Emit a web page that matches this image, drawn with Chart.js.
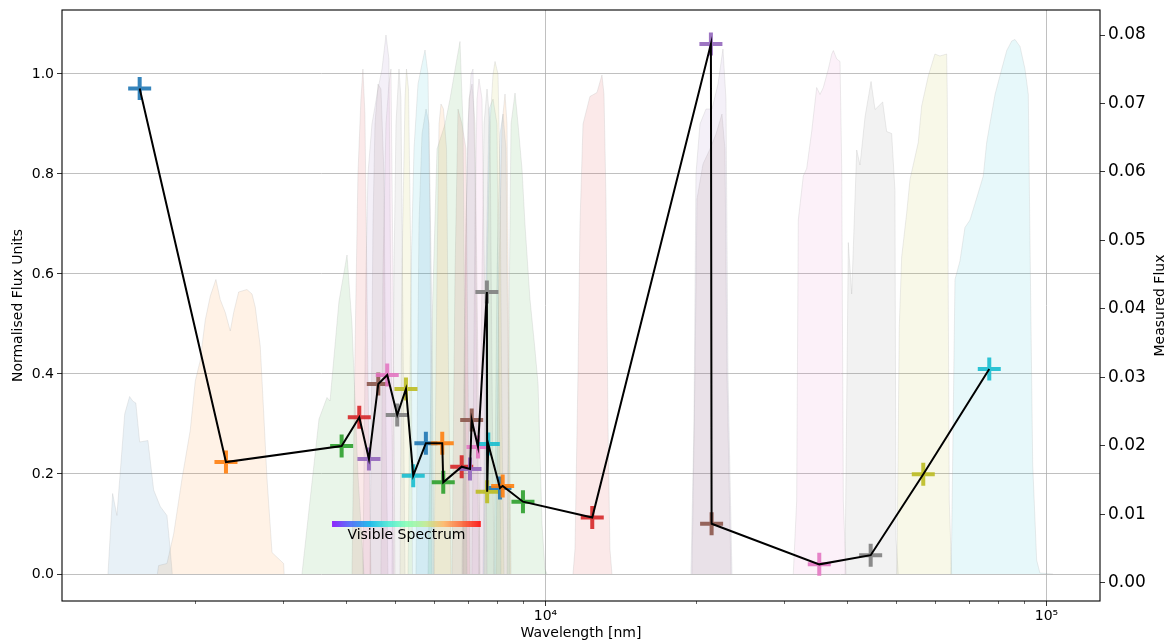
<!DOCTYPE html>
<html>
<head>
<meta charset="utf-8">
<title>Filter curves and measured flux</title>
<script src="https://cdn.jsdelivr.net/npm/chart.js@4.4.1/dist/chart.umd.min.js"></script>
<style>
  html, body { margin: 0; padding: 0; background: #fff; }
  #wrap { width: 1170px; height: 644px; }
</style>
</head>
<body>
<div id="wrap"><canvas id="sed" width="1170" height="644"></canvas></div>
<script>
// matplotlib tab10 cycle, as rgb triples
const tab10 = [
    '31,119,180', '255,127,14', '44,160,44', '214,39,40', '148,103,189',
    '140,86,75', '227,119,194', '127,127,127', '188,189,34', '23,190,207'
];

// Photometry: effective wavelength per band and measured flux (right axis)
const bandWavelengths = [
    1549, 2303, 3919, 4250, 4443, 4638, 4833, 5060, 5267, 5446,
    5772, 6223, 6252, 6805, 7070, 7125, 7334, 7640, 7650, 7689,
    8114, 8215, 9018, 12400, 21392, 21460, 35200, 44580, 56770, 76890
];
const bandFluxes = [
    0.0722, 0.01766, 0.0200, 0.02419, 0.0181, 0.02905, 0.03036, 0.02453, 0.02832, 0.01566,
    0.0204, 0.0204, 0.0147, 0.01698, 0.01664, 0.0238, 0.01985, 0.04248, 0.01333, 0.02029,
    0.01387, 0.01416, 0.01187, 0.00956, 0.07869, 0.00864, 0.00272, 0.00406, 0.01587, 0.03124
];

// Filter transmission curves, [wavelength, normalised transmission]
const curve01 = [[1339,0],[1368,0.161],[1395,0.117],[1417,0.205],[1446,0.32],[1479,0.355],[1500,0.346],[1522,0.342],[1549,0.264],[1609,0.267],[1652,0.168],[1703,0.135],[1756,0.117],[1779,0.058],[1800,0]];
const curve02 = [[1680,0],[1690,0.017],[1756,0.021],[1811,0.08],[1882,0.191],[1954,0.287],[2000,0.386],[2046,0.427],[2094,0.508],[2143,0.556],[2199,0.589],[2243,0.549],[2296,0.523],[2349,0.486],[2386,0.523],[2441,0.564],[2536,0.569],[2596,0.56],[2635,0.534],[2696,0.456],[2739,0.323],[2781,0.191],[2846,0.043],[3002,0.021],[3009,0]];
const curve03 = [[3266,0],[3388,0.146],[3532,0.31],[3664,0.353],[3715,0.346],[3871,0.545],[4017,0.638],[4110,0.5],[4224,0.2],[4342,0]];
const curve04 = [[4110,0],[4168,0.45],[4224,0.8],[4282,0.95],[4322,1.01],[4362,0.92],[4423,0.4],[4484,0]];
const curve05 = [[4322,0],[4382,0.6],[4423,0.8],[4505,0.9],[4632,0.97],[4718,1.01],[4805,1.078],[4871,1.03],[4916,0.5],[4974,0]];
const curve06 = [[4464,0],[4526,0.7],[4568,0.9],[4632,0.98],[4696,0.97],[4761,0.8],[4805,0.3],[4849,0]];
const curve07 = [[4696,0],[4739,0.6],[4805,0.9],[4871,0.98],[4916,1.01],[4962,0.6],[5008,0]];
const curve08 = [[4939,0],[4985,0.6],[5031,0.9],[5101,1.01],[5147,0.95],[5194,0.5],[5244,0]];
const curve09 = [[5124,0],[5170,0.6],[5244,0.95],[5280,1.01],[5329,0.97],[5390,0.6],[5428,0]];
const curve10 = [[5317,0],[5391,0.6],[5465,0.85],[5567,0.98],[5670,1.02],[5749,1.048],[5829,1.0],[5883,0.7],[5937,0]];
const curve11 = [[5515,0],[5592,0.7],[5670,0.88],[5776,0.93],[5856,0.9],[5937,0.5],[5991,0]];
const curve12 = [[5991,0],[6075,0.6],[6131,0.9],[6187,0.94],[6259,0.93],[6347,0.85],[6406,0.4],[6479,0]];
const curve13 = [[5829,0],[5937,0.5],[6075,0.85],[6303,0.9],[6449,0.95],[6629,1.02],[6752,1.065],[6846,0.9],[6909,0.4],[6974,0]];
const curve14 = [[6508,0],[6599,0.6],[6690,0.93],[6814,0.9],[6941,0.85],[7005,0.4],[7070,0]];
const curve15 = [[6814,0],[6909,0.6],[7005,0.9],[7103,1.0],[7168,1.01],[7234,0.8],[7301,0.3],[7368,0]];
const curve16 = [[6846,0],[6941,0.7],[7037,0.95],[7135,0.98],[7234,0.9],[7335,0.4],[7402,0]];
const curve17 = [[7135,0],[7234,0.7],[7301,0.95],[7368,0.99],[7470,0.95],[7575,0.5],[7645,0]];
const curve18 = [[7368,0],[7470,0.6],[7540,0.9],[7645,0.97],[7751,0.9],[7822,0.4],[7895,0]];
const curve19 = [[7540,0],[7645,0.6],[7751,0.9],[7859,1.0],[7931,1.025],[8041,1.0],[8115,0.8],[8190,0.3],[8266,0]];
const curve20 = [[7505,0],[7610,0.6],[7716,0.93],[7859,0.95],[8004,0.9],[8078,0.4],[8153,0]];
const curve21 = [[7895,0],[8004,0.6],[8115,0.88],[8228,0.92],[8342,0.85],[8420,0.4],[8497,0]];
const curve22 = [[7967,0],[8078,0.6],[8190,0.9],[8304,0.96],[8381,0.9],[8458,0.4],[8536,0]];
const curve23 = [[8381,0],[8458,0.5],[8536,0.9],[8695,0.962],[8816,0.9],[8979,0.81],[9101,0.7],[9313,0.55],[9528,0.45],[9666,0.38],[9750,0.25],[9843,0.1],[9977,0.01],[10069,0]];
const curve24 = [[11349,0],[11454,0.05],[11613,0.4],[11720,0.7],[11884,0.9],[12268,0.955],[12671,0.963],[12966,0.998],[13086,0.96],[13207,0.75],[13329,0.3],[13449,0.05],[13576,0]];
const curve25 = [[19517,0],[19790,0.3],[19972,0.8],[20344,0.9],[20915,0.93],[21497,0.93],[22099,0.98],[22610,1.05],[22925,0.95],[23137,0.4],[23567,0]];
const curve26 = [[19608,0],[19881,0.4],[20064,0.75],[20627,0.82],[21300,0.85],[21897,0.88],[22507,0.92],[22820,0.85],[23031,0.4],[23459,0]];
const curve27 = [[31235,0],[31728,0.146],[31963,0.708],[32707,0.796],[33223,0.811],[33992,0.885],[34785,0.973],[35320,0.959],[35860,0.973],[36697,1.01],[37276,1.04],[37552,1.047],[38145,1.03],[38722,1.025],[39026,0.81],[39315,0.146],[39806,0]];
const curve28 = [[39618,0],[40226,0.663],[40860,0.56],[41810,0.848],[42448,0.818],[43436,0.914],[44654,0.985],[45484,0.929],[47108,0.944],[47973,0.885],[49091,0.881],[49843,0.767],[50073,0.07],[50607,0]];
const curve29 = [[50200,0],[50373,0.07],[50839,0.493],[51404,0.634],[52602,0.722],[53405,0.789],[55473,0.863],[56349,0.936],[58083,0.996],[59896,1.04],[61291,1.036],[63213,1.04],[63387,0.959],[63973,0.146],[64685,0]];
const curve30 = [[64400,0],[64685,0.07],[65677,0.589],[67193,0.626],[68757,0.693],[70357,0.708],[72566,0.752],[74796,0.796],[75976,0.863],[78940,0.959],[81418,1.01],[83314,1.047],[85239,1.066],[86546,1.069],[88559,1.055],[90610,1.01],[91993,0.959],[92715,0.663],[93874,0.22],[95587,0.028],[97051,0.002],[103040,0]];

const filterCurves = [
    curve01, curve02, curve03, curve04, curve05, curve06, curve07, curve08, curve09, curve10,
    curve11, curve12, curve13, curve14, curve15, curve16, curve17, curve18, curve19, curve20,
    curve21, curve22, curve23, curve24, curve25, curve26, curve27, curve28, curve29, curve30
];

// Axis ranges and ticks
const waveRange = [1084, 127900];
const waveMajorTicks = [10000, 100000];
const waveMinorTicks = [2000, 3000, 4000, 5000, 6000, 7000, 8000, 9000,
                        20000, 30000, 40000, 50000, 60000, 70000, 80000, 90000];
const normRange = [-0.054, 1.128];
const normTicks = [0, 0.2, 0.4, 0.6, 0.8, 1.0];
const fluxRange = [-0.00263, 0.08365];
const fluxTicks = [0, 0.01, 0.02, 0.03, 0.04, 0.05, 0.06, 0.07, 0.08];

// Visible spectrum marker
const visibleRange = [3750, 7430];
const visibleLevel = 0.1;
const visibleLabelLevel = 0.078;
const spectrumColors = [
    'rgba(128,0,255,0.85)', 'rgba(64,98,250,0.85)', 'rgba(0,180,236,0.85)',
    'rgba(64,236,212,0.85)', 'rgba(128,255,180,0.85)', 'rgba(191,236,142,0.85)',
    'rgba(255,180,98,0.85)', 'rgba(255,98,50,0.85)', 'rgba(255,0,0,0.85)'
];

const superDigits = { '4': '\u2074', '5': '\u2075' };

Chart.defaults.font.family = "'DejaVu Sans', sans-serif";
Chart.defaults.color = '#000';

// Frame, minor ticks, visible band, right-hand label
const extrasPlugin = {
    id: 'extras',
    afterDatasetsDraw(chart) {
        const ctx = chart.ctx;
        const xs = chart.scales.x, ys = chart.scales.y;
        const x0 = xs.getPixelForValue(visibleRange[0]);
        const x1 = xs.getPixelForValue(visibleRange[1]);
        const yb = ys.getPixelForValue(visibleLevel);
        const grad = ctx.createLinearGradient(x0, 0, x1, 0);
        spectrumColors.forEach((c, i) => grad.addColorStop(i / (spectrumColors.length - 1), c));
        ctx.save();
        ctx.fillStyle = grad;
        ctx.fillRect(x0, yb - 3, x1 - x0, 6);
        const xm = xs.getPixelForValue(Math.sqrt(visibleRange[0] * visibleRange[1]));
        ctx.fillStyle = '#000';
        ctx.font = "14px 'DejaVu Sans'";
        ctx.textAlign = 'center';
        ctx.textBaseline = 'middle';
        ctx.fillText('Visible Spectrum', xm, ys.getPixelForValue(visibleLabelLevel));
        ctx.restore();
    },
    afterDraw(chart) {
        const ctx = chart.ctx;
        const area = chart.chartArea;
        const xs = chart.scales.x;
        ctx.save();
        ctx.strokeStyle = '#000';
        ctx.lineWidth = 0.6;
        waveMinorTicks.forEach(v => {
            const px = Math.round(xs.getPixelForValue(v)) + 0.5;
            ctx.beginPath();
            ctx.moveTo(px, area.bottom);
            ctx.lineTo(px, area.bottom + 3);
            ctx.stroke();
        });
        ctx.lineWidth = 1.1;
        ctx.strokeRect(area.left, area.top, area.right - area.left, area.bottom - area.top);
        ctx.translate(chart.scales.y1.right - 10, (area.top + area.bottom) / 2);
        ctx.rotate(-Math.PI / 2);
        ctx.fillStyle = '#000';
        ctx.font = "14px 'DejaVu Sans'";
        ctx.textAlign = 'center';
        ctx.textBaseline = 'middle';
        ctx.fillText('Measured Flux', 0, 0);
        ctx.restore();
    }
};

const filterDatasets = filterCurves.map((curve, i) => ({
    type: 'line',
    data: curve.map(p => ({ x: p[0], y: p[1] })),
    yAxisID: 'y',
    fill: 'origin',
    backgroundColor: `rgba(${tab10[i % 10]},0.1)`,
    borderColor: 'rgba(160,160,160,0.25)',
    borderWidth: 0.8,
    pointRadius: 0,
    tension: 0,
    order: 3
}));

const bandPoints = bandWavelengths.map((w, i) => ({ x: w, y: bandFluxes[i] }));
const bandColors = bandWavelengths.map((w, i) => `rgba(${tab10[i % 10]},0.9)`);

// keep label overhang from pushing the plot area around
const fixVertical = (width) => (scale) => {
    scale.width = width;
    scale.paddingTop = 0;
    scale.paddingBottom = 0;
};

new Chart(document.getElementById('sed'), {
    type: 'line',
    data: {
        datasets: [
            ...filterDatasets,
            {
                type: 'line',
                data: bandPoints,
                yAxisID: 'y1',
                showLine: false,
                pointStyle: 'cross',
                pointRadius: 11.5,
                pointHoverRadius: 11.5,
                pointBorderWidth: 4,
                pointBorderColor: bandColors,
                pointBackgroundColor: bandColors,
                order: 2
            },
            {
                type: 'line',
                data: bandPoints,
                yAxisID: 'y1',
                borderColor: '#000',
                borderWidth: 2,
                pointRadius: 0,
                fill: false,
                tension: 0,
                order: 1
            }
        ]
    },
    options: {
        responsive: false,
        animation: false,
        devicePixelRatio: 1,
        layout: { autoPadding: false, padding: { top: 10, left: 0, right: 0, bottom: 0 } },
        plugins: {
            legend: { display: false },
            tooltip: { enabled: false }
        },
        scales: {
            x: {
                type: 'logarithmic',
                position: 'bottom',
                min: waveRange[0],
                max: waveRange[1],
                afterBuildTicks: (scale) => { scale.ticks = waveMajorTicks.map(v => ({ value: v })); },
                afterFit: (scale) => { scale.height = 43; scale.paddingLeft = 0; scale.paddingRight = 0; },
                ticks: {
                    autoSkip: false,
                    maxRotation: 0,
                    padding: 2,
                    font: { size: 14 },
                    callback: (val) => {
                        const exp = String(Math.round(Math.log10(val)));
                        return '10' + exp.split('').map(d => superDigits[d] || d).join('');
                    }
                },
                grid: { color: '#b0b0b0', lineWidth: 0.8, tickLength: 5, tickColor: '#000', tickWidth: 0.8 },
                border: { display: false },
                title: { display: true, text: 'Wavelength [nm]', font: { size: 14 }, padding: { top: 0, bottom: 2 } }
            },
            y: {
                type: 'linear',
                position: 'left',
                min: normRange[0],
                max: normRange[1],
                afterBuildTicks: (scale) => { scale.ticks = normTicks.map(v => ({ value: v })); },
                afterFit: fixVertical(62),
                ticks: { font: { size: 14 }, padding: 3, callback: (val) => val.toFixed(1) },
                grid: { color: '#b0b0b0', lineWidth: 0.8, tickLength: 5, tickColor: '#000', tickWidth: 0.8 },
                border: { display: false },
                title: { display: true, text: 'Normalised Flux Units', font: { size: 14 }, padding: { top: 10, bottom: 0 } }
            },
            y1: {
                type: 'linear',
                position: 'right',
                min: fluxRange[0],
                max: fluxRange[1],
                afterBuildTicks: (scale) => { scale.ticks = fluxTicks.map(v => ({ value: v })); },
                afterFit: fixVertical(70),
                ticks: { font: { size: 17 }, padding: 3, callback: (val) => val.toFixed(2) },
                grid: { drawOnChartArea: false, tickLength: 5, tickColor: '#000', tickWidth: 0.8 },
                border: { display: false }
            }
        }
    },
    plugins: [extrasPlugin]
});
</script>
</body>
</html>
